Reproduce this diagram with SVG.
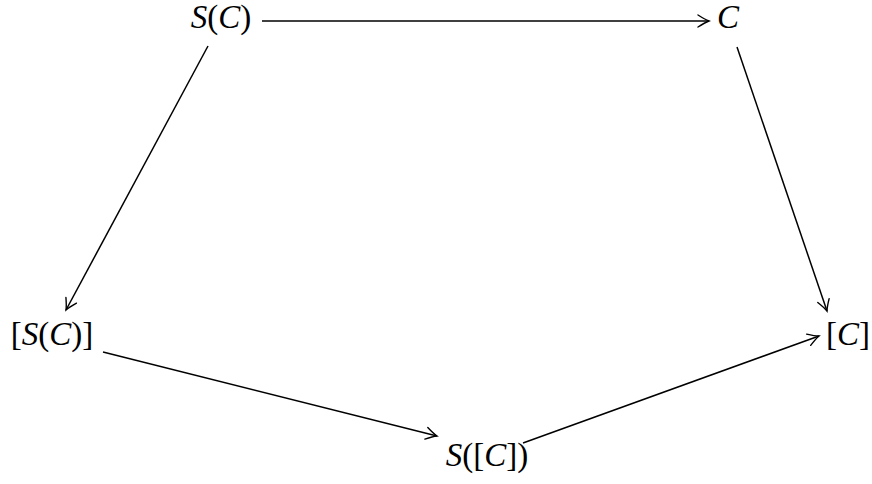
<svg xmlns="http://www.w3.org/2000/svg" width="872" height="484" viewBox="0 0 872 484">
<style>
.t{font-family:"Liberation Serif",serif;font-size:33px;fill:#000;text-anchor:middle}
.i{font-style:italic}
</style>
<defs>
<marker id="ah" markerWidth="16" markerHeight="14" refX="0" refY="0" viewBox="-12 -7 14 14" markerUnits="userSpaceOnUse" orient="auto">
<path d="M -11 -6 Q -4 -1.5 0 0 Q -4 1.5 -11 6" stroke="#000" stroke-width="1.4" fill="none" stroke-linecap="round"/>
</marker>
</defs>
<rect width="872" height="484" fill="#fff"/>
<g id="connectors" stroke="#000" stroke-width="1.5" fill="none">
<line x1="262" y1="21" x2="709" y2="21" marker-end="url(#ah)"/>
<line x1="208" y1="46" x2="66" y2="310" marker-end="url(#ah)"/>
<line x1="737" y1="47" x2="827" y2="311" marker-end="url(#ah)"/>
<line x1="103" y1="352" x2="437" y2="436" marker-end="url(#ah)"/>
<line x1="523" y1="443" x2="819" y2="336" marker-end="url(#ah)"/>
</g>
<g id="n1"><text class="t" x="221" y="28"><tspan class="i">S</tspan>(<tspan class="i">C</tspan>)</text></g>
<g id="n2"><text class="t" x="728" y="28"><tspan class="i">C</tspan></text></g>
<g id="n3"><text class="t" x="52" y="345">[<tspan class="i">S</tspan>(<tspan class="i">C</tspan>)]</text></g>
<g id="n4"><text class="t" x="848" y="345">[<tspan class="i">C</tspan>]</text></g>
<g id="n5"><text class="t" x="487" y="466"><tspan class="i">S</tspan>([<tspan class="i">C</tspan>])</text></g>
</svg>
